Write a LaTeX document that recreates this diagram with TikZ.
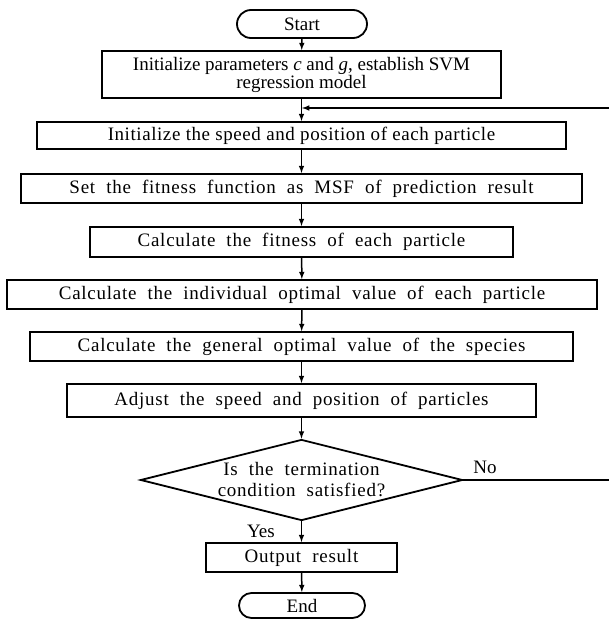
\documentclass[tikz,border=0pt]{standalone}
\usepackage{fontspec}
\setmainfont{Liberation Serif}
\newfontfamily\spacedfont{Liberation Serif}[LetterSpace=4,WordSpace=2.0]
\newfontfamily\trackfont{Liberation Serif}[LetterSpace=3]
\usetikzlibrary{shapes.geometric,shapes.misc,arrows}
\tikzset{
    term/.style={draw,rounded rectangle,line width=1.8pt,inner sep=0pt},
    proc/.style={draw,rectangle,line width=1.8pt,inner sep=0pt,align=center},
    test/.style={draw,diamond,line width=1.8pt,inner sep=-6pt,aspect=4,align=center},
    wide/.style={font=\spacedfont\fontsize{19}{21}\selectfont},
    arr/.style={-latex,line width=1.5pt}
}

\begin{document}
\begin{tikzpicture}[x=1pt,y=-1pt,font=\fontsize{19}{21}\selectfont]
    \useasboundingbox (0,0) rectangle (609,619);
    \node [term,minimum width=130pt,minimum height=28pt] (start) at (302,24) {Start};
    \node [proc,minimum width=399pt,minimum height=47pt] (init) at (301.5,74.5)
        {Initialize parameters \textit{c} and \textit{g}, establish SVM\\[-3pt]regression model};
    \node [proc,minimum width=529pt,minimum height=27pt,font=\trackfont\fontsize{19}{21}\selectfont] (speed) at (301.5,135.5)
        {Initialize the speed and position of each particle};
    \node [proc,wide,minimum width=561pt,minimum height=29pt] (fitfun) at (301.5,188.5)
        {Set the fitness function as MSF of prediction result};
    \node [proc,wide,minimum width=423pt,minimum height=30pt] (fitness) at (301.5,242)
        {Calculate the fitness of each particle};
    \node [proc,wide,minimum width=590pt,minimum height=29pt] (indiv) at (302,294.5)
        {Calculate the individual optimal value of each particle};
    \node [proc,wide,minimum width=543pt,minimum height=29pt] (general) at (301.5,346.5)
        {Calculate the general optimal value of the species};
    \node [proc,wide,minimum width=469pt,minimum height=33pt] (adjust) at (301.5,400.5)
        {Adjust the speed and position of particles};
    \node [test,wide,minimum width=322pt,minimum height=81pt] (check) at (301.5,480)
        {Is the termination\\condition satisfied?};
    \node [proc,wide,minimum width=191pt,minimum height=29pt] (output) at (301.5,557.5)
        {Output result};
    \node [term,minimum width=126pt,minimum height=25pt] (end) at (302,605.5) {End};
    \node (yes) at (261,531) {Yes};
    \node (no) at (485,467) {No};
    % main chain
    \foreach \a/\b in {start/init,init/speed,speed/fitfun,fitfun/fitness,
        fitness/indiv,indiv/general,general/adjust,adjust/check,check/output,output/end} {
        \draw [arr] (\a) -- (\b);
    }
    % loop back when not satisfied
    \coordinate (join) at (302,108);
    \coordinate (edge) at (613,480);
    \draw [arr] (check.east) -- (edge) |- (join);
\end{tikzpicture}
\end{document}
